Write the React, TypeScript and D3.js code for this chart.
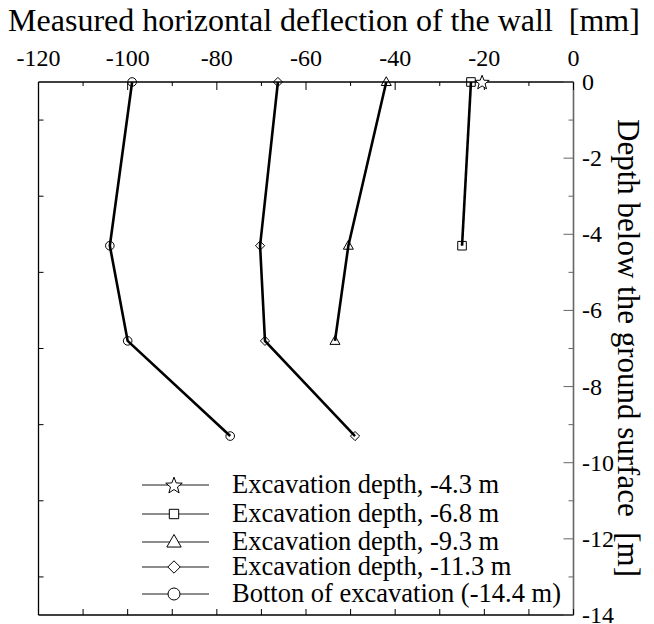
import React from 'react';
import * as d3 from 'd3';

// deflection [mm] vs depth [m], one pair of arrays per excavation stage
const starDefl = [-20.5];
const starDepth = [0];
const squareDefl = [-23, -25];
const squareDepth = [0, -4.3];
const triDefl = [-42, -50.5, -53.5];
const triDepth = [0, -4.3, -6.8];
const diaDefl = [-66.3, -70.3, -69.2, -49];
const diaDepth = [0, -4.3, -6.8, -9.3];
const circDefl = [-99, -104, -100, -77];
const circDepth = [0, -4.3, -6.8, -9.3];

const legendLabels = [
  'Excavation depth, -4.3 m',
  'Excavation depth, -6.8 m',
  'Excavation depth, -9.3 m',
  'Excavation depth, -11.3 m',
  'Botton of excavation (-14.4 m)',
];
const markerKinds = ['star', 'square', 'triangle', 'diamond', 'circle'];

const xTicks = d3.range(-120, 1, 10);
const xLabels = [-120, -100, -80, -60, -40, -20, 0];
const yTicks = d3.range(0, -14.5, -1);
const yLabels = [0, -2, -4, -6, -8, -10, -12, -14];

const W = 654;
const H = 624;
const left = 38.5;
const right = 573.5;
const top = 82;
const bottom = 615;
const serif = { fontFamily: 'Liberation Serif', whiteSpace: 'pre' as const };

const x = d3.scaleLinear().domain([-120, 0]).range([left, right]);
const y = d3.scaleLinear().domain([0, -14]).range([top, bottom]);

// outline marker path centred on 0,0 ; s = half size
function markerPath(kind: string, s: number) {
  if (kind === 'circle') {
    return `M${s},0A${s},${s} 0 1,1 ${-s},0A${s},${s} 0 1,1 ${s},0Z`;
  }
  if (kind === 'square') {
    return `M${-s},${-s}H${s}V${s}H${-s}Z`;
  }
  if (kind === 'diamond') {
    return `M0,${-s}L${s},0L0,${s}L${-s},0Z`;
  }
  if (kind === 'triangle') {
    const h = s * 1.75;
    return `M0,${-h * 0.6}L${s},${h * 0.4}L${-s},${h * 0.4}Z`;
  }
  // star
  const pts: string[] = [];
  for (let i = 0; i < 10; i++) {
    const r = i % 2 === 0 ? s : s * 0.42;
    const a = (Math.PI / 5) * i - Math.PI / 2;
    pts.push(`${(r * Math.cos(a)).toFixed(2)},${(r * Math.sin(a) + s * 0.1).toFixed(2)}`);
  }
  return 'M' + pts.join('L') + 'Z';
}

const series = [
  { kind: 'star', xs: starDefl, ys: starDepth, s: 7.5 },
  { kind: 'square', xs: squareDefl, ys: squareDepth, s: 4.3 },
  { kind: 'triangle', xs: triDefl, ys: triDepth, s: 5 },
  { kind: 'diamond', xs: diaDefl, ys: diaDepth, s: 4.6 },
  { kind: 'circle', xs: circDefl, ys: circDepth, s: 4.3 },
];

const line = d3
  .line<[number, number]>()
  .x((d) => x(d[0]))
  .y((d) => y(d[1]));

export default function App() {
  const legendRows = [485, 514, 542, 567, 594];
  const legendSizes = [8.7, 4.7, 7.2, 6.2, 6];

  return (
    <svg width={W} height={H} style={{ position: 'absolute', left: 0, top: 0, background: '#fff' }}>
      <rect width={W} height={H} fill="#fff" />
      <text x={324} y={31} fontSize={32} textAnchor="middle" style={serif}>
        {'Measured horizontal deflection of the wall  [mm]'}
      </text>

      {/* frame */}
      <line x1={left} x2={right} y1={top} y2={top} stroke="#000" strokeWidth={1.3} />
      <line x1={left} x2={right} y1={bottom} y2={bottom} stroke="#000" strokeWidth={1.3} />
      <line x1={left} x2={left} y1={top} y2={bottom} stroke="#000" strokeWidth={1.3} />
      <line x1={right} x2={right} y1={top} y2={bottom} stroke="#666" strokeWidth={1.6} />

      {/* x ticks top and bottom */}
      {xTicks.map((t) => {
        const major = t % 20 === 0;
        return (
          <g key={'xt' + t}>
            <line x1={x(t)} x2={x(t)} y1={top} y2={top + (major ? 8 : 4)} stroke="#000" />
            <line x1={x(t)} x2={x(t)} y1={bottom} y2={bottom - 6} stroke="#000" />
          </g>
        );
      })}
      {xLabels.map((t) => (
        <text key={'xl' + t} x={x(t)} y={66} fontSize={24} textAnchor="middle" style={serif}>
          {t}
        </text>
      ))}

      {/* y ticks: left only on odd metres, right on every metre */}
      {yTicks.map((t) => {
        const major = t % 2 === 0;
        return (
          <g key={'yt' + t}>
            {!major && (
              <line x1={left} x2={left + 5} y1={y(t)} y2={y(t)} stroke="#000" />
            )}
            <line x1={right} x2={right - (major ? 10 : 5)} y1={y(t)} y2={y(t)} stroke="#666" />
          </g>
        );
      })}
      {yLabels.map((t) => (
        <text key={'yl' + t} x={582} y={y(t) + 8} fontSize={24} textAnchor="start" style={serif}>
          {t}
        </text>
      ))}
      <text
        transform={`translate(618,348) rotate(90)`}
        fontSize={31}
        textAnchor="middle"
        style={serif}
      >
        {'Depth below the ground surface  [m]'}
      </text>

      {/* data */}
      {series.map((se) => {
        const pts: [number, number][] = se.xs.map((v, i) => [v, se.ys[i]]);
        return (
          <g key={se.kind}>
            {pts.length > 1 && (
              <path d={line(pts) || ''} fill="none" stroke="#000" strokeWidth={2.6} />
            )}
            {pts.map((p, i) => (
              <path
                key={i}
                d={markerPath(se.kind, se.s)}
                transform={`translate(${x(p[0])},${y(p[1])})`}
                fill={se.kind === 'star' ? '#fff' : 'none'}
                stroke="#000"
                strokeWidth={1}
              />
            ))}
          </g>
        );
      })}

      {/* legend */}
      {legendLabels.map((lab, i) => {
        const ly = legendRows[i];
        return (
          <g key={lab}>
            <line x1={142} x2={209} y1={ly} y2={ly} stroke="#000" strokeWidth={0.9} />
            <path
              d={markerPath(markerKinds[i], legendSizes[i])}
              transform={`translate(174,${ly})`}
              fill="#fff"
              stroke="#000"
              strokeWidth={1}
            />
            <text x={232} y={ly + 8} fontSize={26.5} style={serif}>
              {lab}
            </text>
          </g>
        );
      })}
    </svg>
  );
}
